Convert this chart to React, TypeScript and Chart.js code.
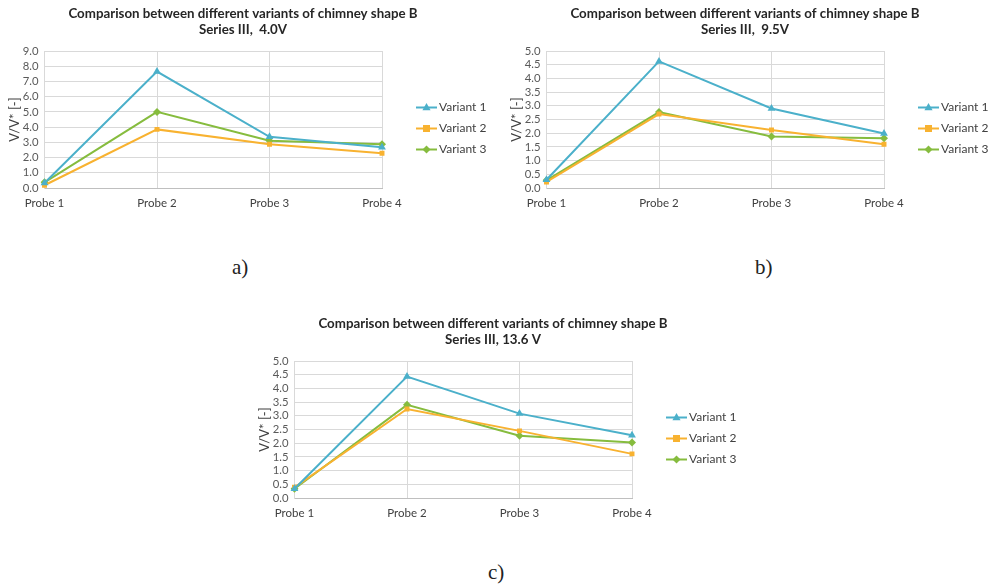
import React, { useEffect, useRef } from 'react';
import { Chart, registerables } from 'chart.js';
Chart.register(...registerables);

const probes = ['Probe 1', 'Probe 2', 'Probe 3', 'Probe 4'];
const variantNames = ['Variant 1', 'Variant 2', 'Variant 3'];

// Chart a) Series III, 4.0V
const aVariant1 = [0.33, 7.65, 3.36, 2.68];
const aVariant2 = [0.18, 3.85, 2.88, 2.28];
const aVariant3 = [0.37, 5.0, 3.1, 2.88];
// Chart b) Series III, 9.5V
const bVariant1 = [0.3, 4.62, 2.9, 1.99];
const bVariant2 = [0.22, 2.7, 2.12, 1.6];
const bVariant3 = [0.28, 2.77, 1.88, 1.82];
// Chart c) Series III, 13.6 V
const cVariant1 = [0.34, 4.43, 3.08, 2.29];
const cVariant2 = [0.39, 3.25, 2.45, 1.61];
const cVariant3 = [0.34, 3.4, 2.27, 2.03];

const titleLine1 = 'Comparison between different variants of chimney shape B';
const aTitle2 = 'Series III,  4.0V';
const bTitle2 = 'Series III,  9.5V';
const cTitle2 = 'Series III, 13.6 V';
const yAxisTitle = 'V/V* [-]';

const colors = ['#4BB0CA', '#F8B230', '#86BC3E'];
const pointStyles = ['triangle', 'rect', 'rectRot'];
const pointRadii = [4.5, 3.5, 4];
const FONT = 'Lato, "Open Sans", sans-serif';

function drawMarker(ctx: CanvasRenderingContext2D, style: string, x: number, y: number, r: number) {
  ctx.beginPath();
  if (style === 'triangle') {
    ctx.moveTo(x, y - r);
    ctx.lineTo(x + r * 0.9, y + r * 0.6);
    ctx.lineTo(x - r * 0.9, y + r * 0.6);
  } else if (style === 'rect') {
    ctx.rect(x - r, y - r, 2 * r, 2 * r);
  } else {
    ctx.moveTo(x, y - r);
    ctx.lineTo(x + r, y);
    ctx.lineTo(x, y + r);
    ctx.lineTo(x - r, y);
  }
  ctx.closePath();
  ctx.fill();
}

const decorPlugin = {
  id: 'decor',
  afterDraw(chart: any, _args: any, opts: any) {
    const { ctx, chartArea, width } = chart;
    ctx.save();
    // title
    ctx.fillStyle = '#262626';
    ctx.font = 'bold 13.3px ' + FONT;
    ctx.textAlign = 'center';
    ctx.textBaseline = 'middle';
    const lines: string[] = opts.lines || [];
    lines.forEach((t, i) => ctx.fillText(t, width / 2, 13.5 + i * 16));
    // legend
    const x0 = chartArea.right + 34;
    const yc = (chartArea.top + chartArea.bottom) / 2 + 9;
    chart.data.datasets.forEach((ds: any, i: number) => {
      const y = yc + (i - 1) * 21;
      ctx.strokeStyle = colors[i];
      ctx.fillStyle = colors[i];
      ctx.lineWidth = 2;
      ctx.beginPath();
      ctx.moveTo(x0, y);
      ctx.lineTo(x0 + 21, y);
      ctx.stroke();
      drawMarker(ctx, pointStyles[i], x0 + 10.5, y, pointRadii[i]);
      ctx.fillStyle = '#404040';
      ctx.font = '12px ' + FONT;
      ctx.textBaseline = 'middle';
      ctx.textAlign = 'left';
      ctx.fillText(ds.label, x0 + 23, y);
    });
    ctx.restore();
  },
};

type PanelProps = {
  left: number;
  top: number;
  title2: string;
  series: number[][];
  yMax: number;
  yStep: number;
};

function Panel({ left, top, title2, series, yMax, yStep }: PanelProps) {
  const ref = useRef<HTMLCanvasElement | null>(null);
  useEffect(() => {
    if (!ref.current) return;
    const chart = new Chart(ref.current, {
      type: 'line',
      data: {
        labels: probes,
        datasets: series.map((vals, i) => ({
          label: variantNames[i],
          data: vals,
          borderColor: colors[i],
          backgroundColor: colors[i],
          borderWidth: 2,
          pointStyle: pointStyles[i] as any,
          pointRadius: pointRadii[i],
          pointBorderWidth: 0,
          pointBackgroundColor: colors[i],
          tension: 0,
        })),
      },
      options: {
        animation: false,
        responsive: false,
        devicePixelRatio: 1,
        layout: { padding: { left: 0, right: 104, top: 51, bottom: 0 } },
        plugins: {
          legend: { display: false },
          tooltip: { enabled: false },
          title: { display: false },
          decor: { lines: [titleLine1, title2] },
        } as any,
        scales: {
          x: {
            type: 'category',
            offset: false,
            grid: { color: '#D9D9D9', drawTicks: false },
            border: { color: '#BFBFBF' },
            ticks: { color: '#404040', font: { family: FONT, size: 11.5 }, padding: 8, maxRotation: 0, autoSkip: false },
            afterFit(scale: any) { scale.height = 27; },
          },
          y: {
            min: 0,
            max: yMax,
            grid: { color: '#D9D9D9', drawTicks: false },
            border: { color: '#D9D9D9' },
            ticks: {
              stepSize: yStep,
              autoSkip: false,
              color: '#595959',
              font: { family: FONT, size: 11.3 },
              padding: 6,
              callback: (v: any) => Number(v).toFixed(1),
            },
            title: {
              display: true,
              text: yAxisTitle,
              color: '#404040',
              font: { family: FONT, size: 13 },
              padding: { top: 7, bottom: 0 },
            },
            afterFit(scale: any) { scale.width = 44.5; },
          },
        },
      },
      plugins: [decorPlugin],
    });
    return () => chart.destroy();
  }, []);
  return (
    <canvas
      ref={ref}
      width={486}
      height={215}
      style={{ position: 'absolute', left, top, width: 486, height: 215 }}
    />
  );
}

const captionStyle: React.CSSProperties = {
  position: 'absolute',
  fontFamily: '"Liberation Serif", "DejaVu Serif", serif',
  fontSize: 21,
  color: '#222',
  lineHeight: '24px',
};

export default function App() {
  return (
    <div style={{ position: 'absolute', left: 0, top: 0, width: 993, height: 585, background: '#fff', overflow: 'hidden' }}>
      <Panel left={0} top={0} title2={aTitle2} series={[aVariant1, aVariant2, aVariant3]} yMax={9} yStep={1} />
      <Panel left={502} top={0} title2={bTitle2} series={[bVariant1, bVariant2, bVariant3]} yMax={5} yStep={0.5} />
      <Panel left={250} top={310} title2={cTitle2} series={[cVariant1, cVariant2, cVariant3]} yMax={5} yStep={0.5} />
      <div style={{ ...captionStyle, left: 232, top: 255 }}>a)</div>
      <div style={{ ...captionStyle, left: 755, top: 255 }}>b)</div>
      <div style={{ ...captionStyle, left: 488, top: 560 }}>c)</div>
    </div>
  );
}
